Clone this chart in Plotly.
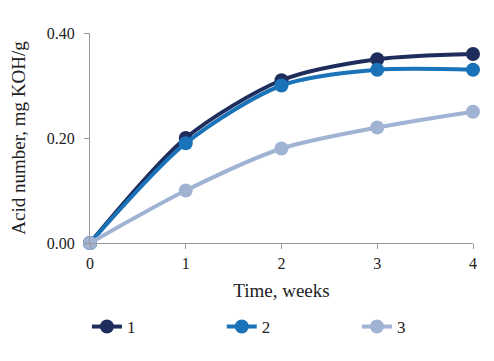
import plotly.graph_objects as go

weeks = [0, 1, 2, 3, 4]
series_names = ["1", "2", "3"]
s1 = [0.0, 0.20, 0.31, 0.35, 0.36]
s2 = [0.0, 0.19, 0.30, 0.33, 0.33]
s3 = [0.0, 0.10, 0.18, 0.22, 0.25]
colors = ["#1f2d5c", "#1a73b8", "#a0b3d3"]
y_ticks = [0.0, 0.2, 0.4]
y_tick_labels = ["0.00", "0.20", "0.40"]

font = "Liberation Serif, Times New Roman, serif"
legend_ids = ["legend", "legend2", "legend3"]
legend_x = [-0.008, 0.344, 0.697]

fig = go.Figure()
for name, vals, c, lg in zip(series_names, [s1, s2, s3], colors, legend_ids):
    fig.add_trace(go.Scatter(
        x=weeks, y=vals, name=name, mode="lines+markers",
        line=dict(color=c, width=4, shape="spline", smoothing=0.8),
        marker=dict(color=c, size=14),
        cliponaxis=False, legend=lg,
    ))

legend_common = dict(orientation="h", y=-0.40, xanchor="left", yanchor="middle",
                     font=dict(family=font, size=17), bgcolor="rgba(0,0,0,0)")

# page body has an 8px margin; size the figure so the plot area lands where the reference has it
fig.update_layout(
    width=486, height=353,
    margin=dict(l=82, r=21, t=25, b=118, autoexpand=False),
    plot_bgcolor="white", paper_bgcolor="white",
    font=dict(family=font, size=16, color="#222"),
    showlegend=True,
    legend=dict(x=legend_x[0], **legend_common),
    legend2=dict(x=legend_x[1], **legend_common),
    legend3=dict(x=legend_x[2], **legend_common),
    xaxis=dict(range=[0, 4], tickvals=weeks, showline=True, linecolor="#999",
               linewidth=1, ticks="outside", ticklen=5, tickcolor="#999",
               showgrid=False, zeroline=False, ticklabelstandoff=1,
               title=dict(text="Time, weeks", standoff=12)),
    yaxis=dict(range=[0, 0.4], tickvals=y_ticks, ticktext=y_tick_labels,
               showline=True, linecolor="#999", linewidth=1, ticks="outside",
               ticklen=5, tickcolor="#999", showgrid=False, zeroline=False,
               ticklabelstandoff=6,
               title=dict(text="Acid number, mg KOH/g", standoff=20)),
)
fig.write_html("out.html")
